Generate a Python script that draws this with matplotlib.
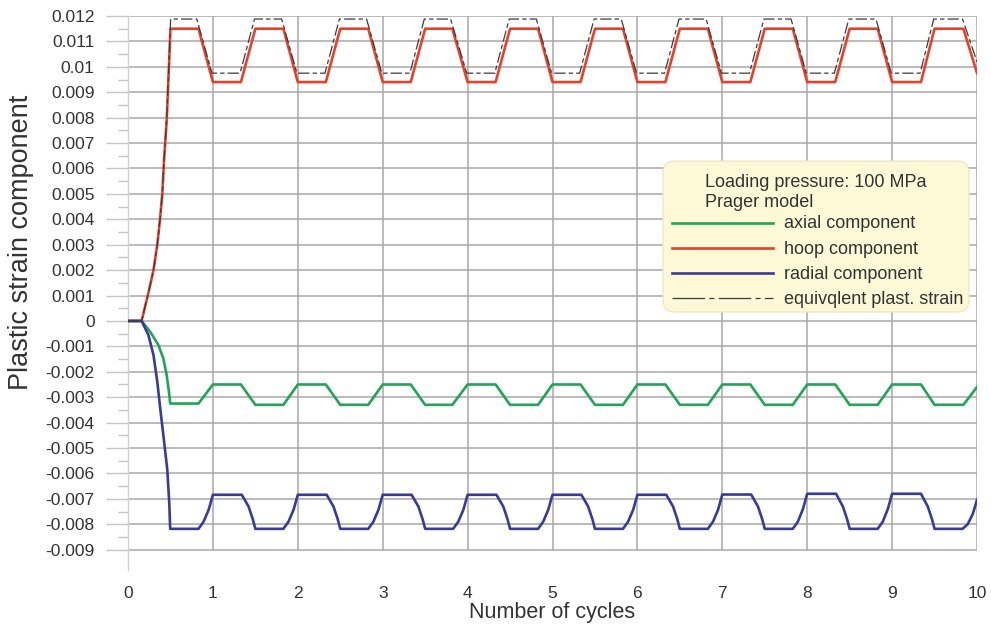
import matplotlib
matplotlib.use("Agg")
import matplotlib.pyplot as plt
from matplotlib.patches import FancyBboxPatch
from matplotlib.lines import Line2D
import numpy as np

plt.rcParams['font.family'] = ['Liberation Sans', 'DejaVu Sans']

# ---------------- data ----------------
x_ticks = [0, 1, 2, 3, 4, 5, 6, 7, 8, 9, 10]
x_tick_labels = ["0", "1", "2", "3", "4", "5", "6", "7", "8", "9", "10"]
y_ticks = [-0.009, -0.008, -0.007, -0.006, -0.005, -0.004, -0.003, -0.002, -0.001,
           0.0, 0.001, 0.002, 0.003, 0.004, 0.005, 0.006, 0.007, 0.008, 0.009,
           0.010, 0.011, 0.012]
y_tick_labels = ["-0.009", "-0.008", "-0.007", "-0.006", "-0.005", "-0.004", "-0.003",
                 "-0.002", "-0.001", "0", "0.001", "0.002", "0.003", "0.004", "0.005",
                 "0.006", "0.007", "0.008", "0.009", "0.01", "0.011", "0.012"]
y_minor_ticks = [-0.0085, -0.0075, -0.0065, -0.0055, -0.0045, -0.0035, -0.0025, -0.0015,
                 -0.0005, 0.0005, 0.0015, 0.0025, 0.0035, 0.0045, 0.0055, 0.0065, 0.0075,
                 0.0085, 0.0095, 0.0105, 0.0115]

# corner times shared by hoop and axial components (after initial ramp)
corner_x = [0.83, 1.00, 1.33, 1.50, 1.83, 2.00, 2.33, 2.50, 2.83, 3.00, 3.33, 3.50,
            3.82, 4.00, 4.33, 4.50, 4.83, 5.00, 5.33, 5.50, 5.83, 6.00, 6.33, 6.50,
            6.83, 7.00, 7.33, 7.50, 7.83, 8.00, 8.33, 8.50, 8.83, 9.00, 9.34, 9.50,
            9.84, 10.00]

hoop_ramp_x = [0, 0.16, 0.24, 0.30, 0.345, 0.377, 0.404, 0.424, 0.456, 0.486, 0.50]
hoop_ramp_y = [0, 0, 0.0011, 0.0020, 0.0030, 0.0040, 0.0050, 0.0063, 0.0079, 0.0103, 0.0115]
hoop_corner_y = [0.0115, 0.0094, 0.0094, 0.0115,
                 0.0115, 0.0094, 0.0094, 0.0115,
                 0.0115, 0.0094, 0.0094, 0.0115,
                 0.0115, 0.0094, 0.0094, 0.0115,
                 0.0115, 0.0094, 0.0094, 0.0115,
                 0.0115, 0.0094, 0.0094, 0.0115,
                 0.0115, 0.0094, 0.0094, 0.0115,
                 0.0115, 0.0094, 0.0094, 0.0115,
                 0.0115, 0.0094, 0.0094, 0.0115,
                 0.0115, 0.00976]

axial_ramp_x = [0, 0.16, 0.26, 0.357, 0.416, 0.455, 0.482, 0.497]
axial_ramp_y = [0, 0, -0.00042, -0.00094, -0.00147, -0.00212, -0.00278, -0.00325]
axial_corner_y = [-0.00325, -0.0025, -0.0025, -0.0033,
                  -0.0033, -0.0025, -0.0025, -0.0033,
                  -0.0033, -0.0025, -0.0025, -0.0033,
                  -0.0033, -0.0025, -0.0025, -0.0033,
                  -0.0033, -0.0025, -0.0025, -0.0033,
                  -0.0033, -0.0025, -0.0025, -0.0033,
                  -0.0033, -0.0025, -0.0025, -0.0033,
                  -0.0033, -0.0025, -0.0025, -0.0033,
                  -0.0033, -0.0025, -0.0025, -0.0033,
                  -0.0033, -0.0026]

radial_x = [0, 0.16, 0.24, 0.30, 0.345, 0.384, 0.416, 0.463, 0.486, 0.497,
            0.83, 0.89, 0.95, 1.00, 1.34, 1.42, 1.47, 1.50,
            1.83, 1.89, 1.95, 2.00, 2.34, 2.42, 2.47, 2.50,
            2.83, 2.89, 2.95, 3.00, 3.34, 3.42, 3.47, 3.50,
            3.83, 3.89, 3.95, 4.00, 4.34, 4.42, 4.47, 4.50,
            4.83, 4.89, 4.95, 5.00, 5.34, 5.42, 5.47, 5.50,
            5.83, 5.89, 5.95, 6.00, 6.34, 6.42, 6.47, 6.50,
            6.83, 6.89, 6.95, 7.00, 7.34, 7.42, 7.47, 7.50,
            7.83, 7.89, 7.95, 8.00, 8.34, 8.42, 8.47, 8.50,
            8.83, 8.89, 8.95, 9.00, 9.34, 9.42, 9.47, 9.50,
            9.83, 9.89, 9.95, 10.00]
radial_y = [0, 0, -0.00055, -0.00134, -0.00239, -0.00357, -0.00448, -0.00586, -0.00717, -0.00818,
            -0.00818, -0.0079, -0.00743, -0.00684, -0.00684, -0.0073, -0.0078, -0.00818,
            -0.00818, -0.0079, -0.00743, -0.00684, -0.00684, -0.0073, -0.0078, -0.00818,
            -0.00818, -0.0079, -0.00743, -0.00684, -0.00684, -0.0073, -0.0078, -0.00818,
            -0.00818, -0.0079, -0.00743, -0.00684, -0.00684, -0.0073, -0.0078, -0.00818,
            -0.00818, -0.0079, -0.00743, -0.00684, -0.00684, -0.0073, -0.0078, -0.00818,
            -0.00818, -0.0079, -0.00743, -0.00684, -0.00684, -0.0073, -0.0078, -0.00818,
            -0.00818, -0.0079, -0.00743, -0.00683, -0.00683, -0.0073, -0.0078, -0.00818,
            -0.00818, -0.0079, -0.00740, -0.00680, -0.00680, -0.0073, -0.0078, -0.00818,
            -0.00818, -0.0079, -0.00740, -0.00680, -0.00680, -0.0073, -0.0078, -0.00818,
            -0.00818, -0.0080, -0.0076, -0.00704]

equiv_x = [0, 0.16, 0.24, 0.30, 0.345, 0.377, 0.404, 0.424, 0.456, 0.486, 0.502,
           0.81, 0.99, 1.32, 1.49, 1.81, 1.99, 2.32, 2.49, 2.81, 2.99, 3.32, 3.49,
           3.80, 3.99, 4.32, 4.49, 4.81, 4.99, 5.32, 5.49, 5.81, 5.99, 6.32, 6.49,
           6.81, 6.99, 7.32, 7.49, 7.81, 7.99, 8.32, 8.49, 8.81, 8.99, 9.33, 9.49,
           9.83, 10.00]
equiv_y = [0, 0, 0.0011, 0.0020, 0.0030, 0.0040, 0.0050, 0.0063, 0.0080, 0.0105, 0.01188,
           0.01188, 0.00975, 0.00975, 0.01188,
           0.01188, 0.00975, 0.00975, 0.01188,
           0.01188, 0.00975, 0.00975, 0.01188,
           0.01188, 0.00975, 0.00975, 0.01188,
           0.01188, 0.00975, 0.00975, 0.01188,
           0.01188, 0.00975, 0.00975, 0.01188,
           0.01188, 0.00975, 0.00975, 0.01188,
           0.01188, 0.00975, 0.00975, 0.01188,
           0.01188, 0.00975, 0.00975, 0.01188,
           0.01188, 0.0102]

hoop_x = hoop_ramp_x + corner_x
hoop_y = hoop_ramp_y + hoop_corner_y
axial_x = axial_ramp_x + corner_x
axial_y = axial_ramp_y + axial_corner_y

legend_title = ["Loading pressure: 100 MPa", "Prager model"]
series_labels = ["axial component", "hoop component", "radial component",
                 "equivqlent plast. strain"]

# ---------------- styles ----------------
C_AXIAL = '#22a457'
C_HOOP = '#e8412a'
C_RADIAL = '#3a3a98'
C_EQUIV = '#3c3c3c'
GRID = '#a8a8a8'
TXT = '#333333'
LW = 1.9
EQ_DASH = (9, 2.5, 3.5, 2.5)

W, H = 991, 626
fig = plt.figure(figsize=(W / 100, H / 100), dpi=100)
ax = fig.add_axes([128 / W, 56 / H, 849 / W, 554 / H])
ax.set_xlim(0, 10)
ax.set_ylim(-0.0098, 0.012)

for s in ['top', 'right', 'bottom']:
    ax.spines[s].set_visible(False)
ax.spines['left'].set_color('#d0d0d0')
ax.spines['left'].set_linewidth(1.0)

ax.set_yticks(y_ticks)
ax.set_yticklabels(y_tick_labels)
ax.set_yticks(y_minor_ticks, minor=True)
ax.set_xticks(x_ticks)
ax.set_xticklabels(x_tick_labels)

ax.yaxis.grid(True, which='major', color=GRID, lw=1.1)
ax.vlines(x_ticks[1:], y_ticks[0], y_ticks[-1], color=GRID, lw=1.1, zorder=0.5)
ax.set_axisbelow(True)

ax.tick_params(axis='y', which='major', length=16, width=1.0, color='#c6c6c6',
               pad=8, labelsize=12.5, labelcolor=TXT)
ax.tick_params(axis='y', which='minor', length=7.5, width=1.0, color='#c6c6c6')
ax.tick_params(axis='x', which='major', length=0, pad=11.5, labelsize=12.5, labelcolor=TXT)

ax.plot(axial_x, axial_y, color=C_AXIAL, lw=LW, zorder=3)
ax.plot(hoop_x, hoop_y, color=C_HOOP, lw=LW, zorder=3)
ax.plot(radial_x, radial_y, color=C_RADIAL, lw=LW, zorder=3)
ax.plot(equiv_x, equiv_y, color=C_EQUIV, lw=0.9, dashes=EQ_DASH, zorder=4)

ax.set_xlabel("Number of cycles", fontsize=15.5, color=TXT, labelpad=0.5)
fig.text(21 / W, 1 - 242 / H, "Plastic strain component", rotation=90,
         ha='center', va='center', fontsize=19.5, color=TXT)

# ---------------- legend box ----------------
lx0, ly0, lw_, lh_ = 662, 160, 308, 153
lax = fig.add_axes([lx0 / W, 1 - (ly0 + lh_) / H, lw_ / W, lh_ / H])
lax.set_xlim(0, lw_)
lax.set_ylim(lh_, 0)
lax.axis('off')
lax.add_patch(FancyBboxPatch((1, 1), lw_ - 2, lh_ - 2,
                             boxstyle='round,pad=0,rounding_size=12',
                             fc='#fdf9d6', ec='#e9e4c0', lw=0.8))
lax.text(43, 26.7, legend_title[0], fontsize=13, color=TXT, va='baseline', ha='left')
lax.text(43, 46.7, legend_title[1], fontsize=13, color=TXT, va='baseline', ha='left')
styles = [dict(color=C_AXIAL, lw=LW), dict(color=C_HOOP, lw=LW),
          dict(color=C_RADIAL, lw=LW),
          dict(color=C_EQUIV, lw=0.9, dashes=(26, 3.5, 4, 3.5))]
line_ys = [62.7, 88.3, 113.3, 138.3]
for lab, st, yy in zip(series_labels, styles, line_ys):
    lax.add_line(Line2D([10, 111], [yy, yy], **st))
    lax.text(122, yy + 5.6, lab, fontsize=13, color=TXT, va='baseline', ha='left')

fig.savefig("out.png", dpi=100)
